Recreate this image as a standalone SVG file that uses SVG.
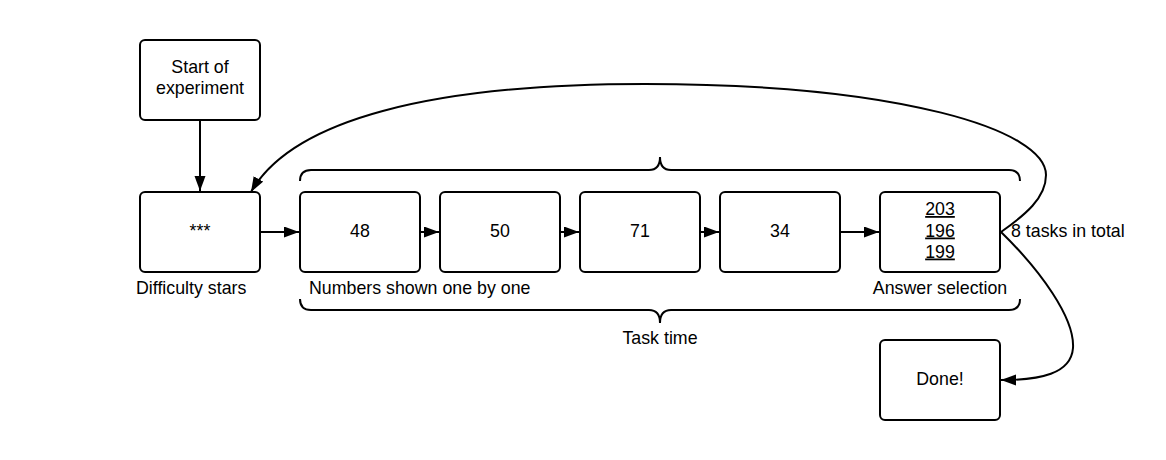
<svg xmlns="http://www.w3.org/2000/svg" width="1166" height="460" viewBox="0 0 1166 460">
<style>
.box{fill:#fff;stroke:#000;stroke-width:2}
.t{font-family:"Liberation Sans",Arial,sans-serif;font-size:17.8px;fill:#000}
.c{text-anchor:middle}
.ln{fill:none;stroke:#000;stroke-width:2}
.u{text-decoration:underline}
</style>
<defs>
<marker id="ah" markerUnits="userSpaceOnUse" markerWidth="16" markerHeight="12" refX="15" refY="5.5" orient="auto">
<path d="M0,0 L15,5.5 L0,11 z" fill="#000"/>
</marker>
</defs>
<rect width="1166" height="460" fill="#fff"/>
<g id="connectors">
<path class="ln" d="M200,121 L200,191" marker-end="url(#ah)"/>
<path class="ln" d="M261,232 L299,232" marker-end="url(#ah)"/>
<path class="ln" d="M421,232 L439,232" marker-end="url(#ah)"/>
<path class="ln" d="M561,232 L579,232" marker-end="url(#ah)"/>
<path class="ln" d="M701,232 L719,232" marker-end="url(#ah)"/>
<path class="ln" d="M841,232 L879,232" marker-end="url(#ah)"/>
<path class="ln" d="M1001,232 C1025,215 1046,198 1046,175 C1046,130 900,84 645,84 C430,84 292,120 251,192" marker-end="url(#ah)"/>
<path class="ln" d="M1001,232 C1040,270 1075,318 1073,348 C1071,374 1040,380 1001,380" marker-end="url(#ah)"/>
<path class="ln" d="M300,181 Q300,170 311,170 L649,170 Q660,170 660,157 Q660,170 671,170 L1009,170 Q1020,170 1020,181"/>
<path class="ln" d="M300,299 Q300,310 311,310 L649,310 Q660,310 660,323 Q660,310 671,310 L1009,310 Q1020,310 1020,299"/>
</g>
<g id="start">
<rect class="box" x="140" y="40" width="120" height="80" rx="5"/>
<text class="t c" x="200" y="72.5">Start of</text>
<text class="t c" x="200" y="94">experiment</text>
</g>
<g id="stars">
<rect class="box" x="140" y="192" width="120" height="80" rx="5"/>
<text class="t c" x="200" y="237">***</text>
<text class="t" x="136" y="293.5">Difficulty stars</text>
</g>
<g id="n48">
<rect class="box" x="300" y="192" width="120" height="80" rx="5"/>
<text class="t c" x="360" y="237">48</text>
</g>
<g id="n50">
<rect class="box" x="440" y="192" width="120" height="80" rx="5"/>
<text class="t c" x="500" y="237">50</text>
</g>
<g id="n71">
<rect class="box" x="580" y="192" width="120" height="80" rx="5"/>
<text class="t c" x="640" y="237">71</text>
</g>
<g id="n34">
<rect class="box" x="720" y="192" width="120" height="80" rx="5"/>
<text class="t c" x="780" y="237">34</text>
</g>
<g id="answer">
<rect class="box" x="880" y="192" width="120" height="80" rx="5"/>
<text class="t c u" x="940" y="215">203</text>
<text class="t c u" x="940" y="236.5">196</text>
<text class="t c u" x="940" y="257.5">199</text>
<text class="t c" x="940" y="293.5">Answer selection</text>
</g>
<g id="done">
<rect class="box" x="880" y="340" width="120" height="80" rx="5"/>
<text class="t c" x="940" y="385">Done!</text>
</g>
<g id="labels">
<text class="t" x="309" y="293.5">Numbers shown one by one</text>
<text class="t c" x="660" y="343.5">Task time</text>
<text class="t" x="1011" y="236.5">8 tasks in total</text>
</g>
</svg>
